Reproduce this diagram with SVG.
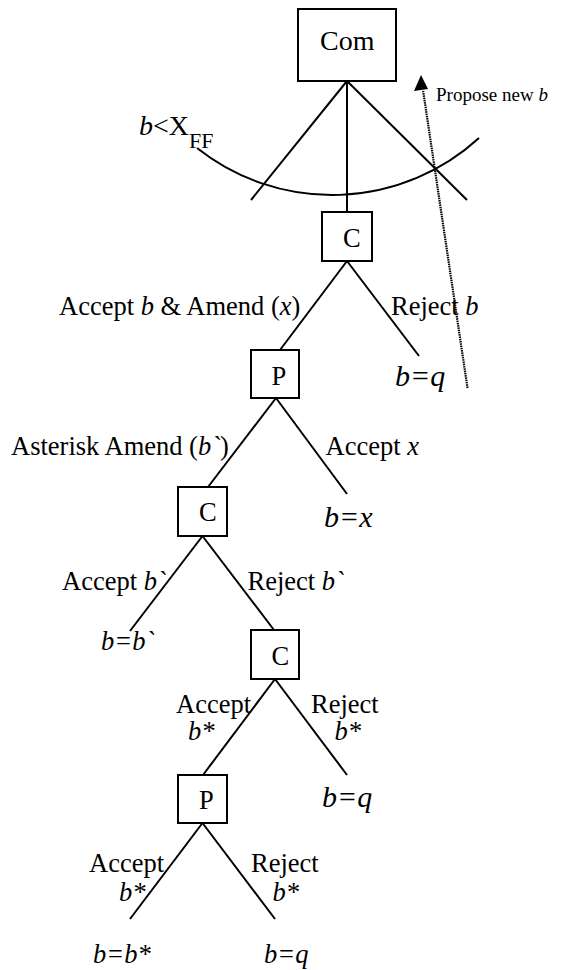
<svg xmlns="http://www.w3.org/2000/svg" width="564" height="970" viewBox="0 0 564 970">
<defs>
<style>
text{font-family:"Liberation Serif","Times New Roman",serif;fill:#000;font-size:26.5px}
.i{font-style:italic}
.big{font-size:30px;font-style:italic}
.f28{font-size:28px}
.f19{font-size:19px}
.sub{font-size:22px}
.box{fill:#fff;stroke:#000;stroke-width:2}
.ln{stroke:#000;stroke-width:2;fill:none}
</style>
</defs>
<rect width="564" height="970" fill="#fff"/>
<g id="connectors">
<line class="ln" x1="347" y1="81" x2="251" y2="200"/>
<line class="ln" x1="347" y1="81" x2="347" y2="212"/>
<line class="ln" x1="347" y1="81" x2="467" y2="200"/>
<path class="ln" d="M197,148 A217.7,217.7 0 0 0 479,138"/>
<line class="ln" x1="347" y1="261" x2="280" y2="350"/>
<line class="ln" x1="347" y1="261" x2="419" y2="356"/>
<line class="ln" x1="276" y1="398" x2="208" y2="487"/>
<line class="ln" x1="276" y1="398" x2="347" y2="494"/>
<line class="ln" x1="202.5" y1="536" x2="130" y2="631"/>
<line class="ln" x1="202.5" y1="536" x2="274" y2="630"/>
<line class="ln" x1="275" y1="679" x2="203" y2="775"/>
<line class="ln" x1="275" y1="679" x2="347" y2="775"/>
<line class="ln" x1="202.5" y1="823" x2="130" y2="919"/>
<line class="ln" x1="202.5" y1="823" x2="275" y2="919"/>
<line x1="467.5" y1="388" x2="423" y2="90" stroke="#000" stroke-width="2.2" stroke-dasharray="1.5,0.8"/>
<polygon points="421,75 414,91 428,89" fill="#000"/>
</g>
<g id="com"><rect class="box" x="298" y="9" width="98" height="72"/><text class="f28" x="320" y="50">Com</text></g>
<g id="c1"><rect class="box" x="322" y="212" width="50" height="49"/><text x="343" y="247">C</text></g>
<g id="p1"><rect class="box" x="251" y="350" width="48" height="48"/><text x="271.5" y="385">P</text></g>
<g id="c2"><rect class="box" x="178" y="487" width="49" height="49"/><text x="199" y="521">C</text></g>
<g id="c3"><rect class="box" x="251" y="630" width="48" height="49"/><text x="271.5" y="665">C</text></g>
<g id="p2"><rect class="box" x="178" y="775" width="49" height="48"/><text x="199" y="809">P</text></g>
<g id="labels">
<text class="f28" x="139" y="135"><tspan class="i">b</tspan>&lt;X<tspan class="sub" dy="13">FF</tspan></text>
<text class="f19" x="436" y="101">Propose new <tspan class="i">b</tspan></text>
<text x="59" y="315">Accept <tspan class="i">b</tspan> &amp; Amend (<tspan class="i">x</tspan>)</text>
<text x="391" y="315">Reject <tspan class="i">b</tspan></text>
<text class="big" x="395" y="386">b=q</text>
<text x="11" y="455">Asterisk Amend (<tspan class="i">b`</tspan>)</text>
<text x="325.5" y="455">Accept <tspan class="i">x</tspan></text>
<text class="big" x="324" y="527">b=x</text>
<text x="62" y="590">Accept <tspan class="i">b`</tspan></text>
<text x="247.5" y="590">Reject <tspan class="i">b`</tspan></text>
<text class="i" x="101" y="650">b=b`</text>
<text x="176" y="713">Accept</text>
<text class="i" x="188" y="740">b*</text>
<text x="311" y="713">Reject</text>
<text class="i" x="334.5" y="740">b*</text>
<text class="big" x="322" y="807">b=q</text>
<text x="89" y="872">Accept</text>
<text class="i" x="119" y="901">b*</text>
<text x="251" y="872">Reject</text>
<text class="i" x="272.5" y="901">b*</text>
<text class="i" x="93" y="963">b=b*</text>
<text class="i" x="264" y="963">b=q</text>
</g>
</svg>
